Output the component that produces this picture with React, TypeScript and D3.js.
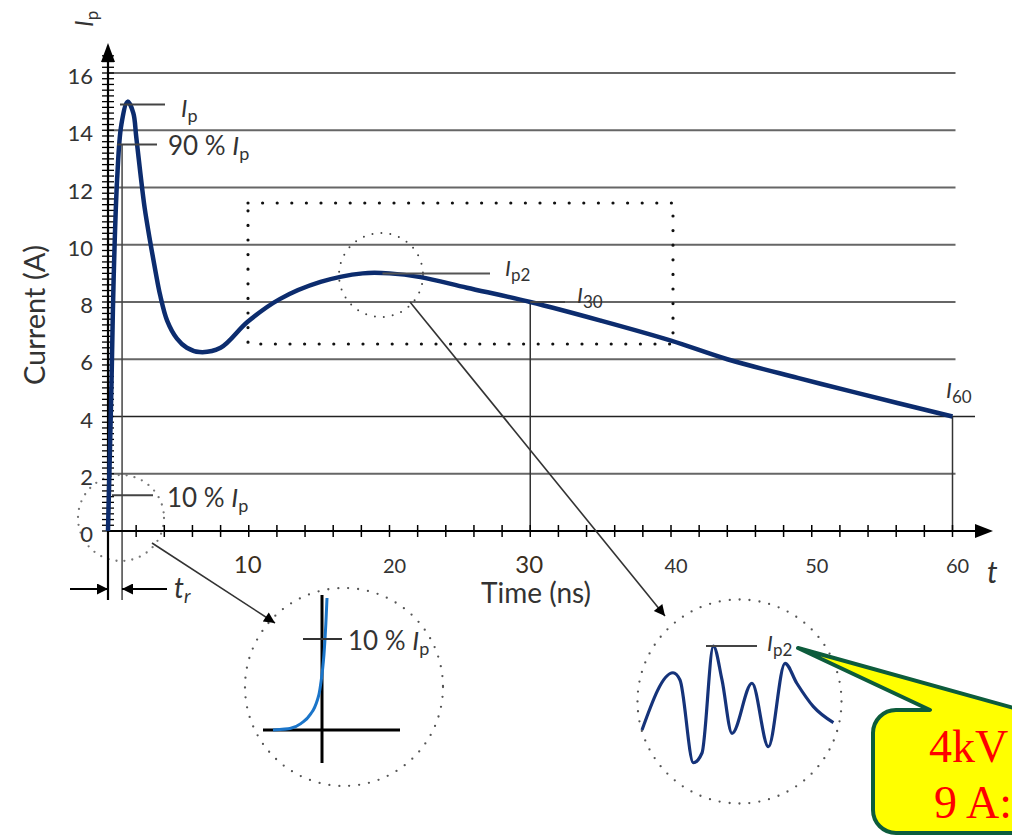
import React from 'react';
import * as d3 from 'd3';

const W = 1012;
const H = 836;

// main waveform
const timeNs = [0, 0.25, 0.4, 0.65, 0.95, 1.4, 1.8, 2.0, 2.3, 2.6, 3.0, 3.4, 3.7, 4.2, 4.9, 5.6, 6.5, 8.0, 9.9, 12.2, 15.1, 18.1, 20.0, 22.2, 25.5, 30, 35, 40, 44, 49, 53, 60];
const currentA = [0, 5.2, 8.8, 12.3, 14.2, 15, 14.6, 13.8, 12.5, 11.3, 10.1, 9.0, 8.25, 7.35, 6.72, 6.4, 6.25, 6.4, 7.3, 8.1, 8.7, 9.0, 9.0, 8.87, 8.5, 8.0, 7.35, 6.65, 6.0, 5.35, 4.85, 4.0];

const yTickLabels = [0, 2, 4, 6, 8, 10, 12, 14, 16];
const xTickLabels = [10, 20, 30, 40, 50, 60];
const bigXLabels = [10, 30];

// annotation levels
const ipLevel = 14.9;
const ip90 = 13.5;
const ip10 = 1.25;
const ip2Level = 9.0;
const trTime = 1.0;

// inset 1: rise detail (arbitrary units)
const riseU = [-4.9, -3.2, -1.9, -1.0, -0.4, -0.1, 0.15, 0.35, 0.5];
const riseV = [0, 0.15, 0.8, 1.8, 3.2, 4.8, 7.0, 10.0, 13.2];
const rise10 = 9.1;

// inset 2: ringing around Ip2 (arbitrary units)
const ringU = [0.1, 1.65, 2.0, 2.67, 3.1, 3.67, 4.1, 4.6, 5.6, 6.42, 7.25, 7.84, 8.67, 9.67];
const ringV = [3.33, 7.15, 6.67, 1.15, 1.8, 8.93, 6.67, 3.11, 6.45, 2.22, 7.78, 6.45, 4.89, 3.82];
const ringPeak = 8.93;

const FONT = 'Lato, "Open Sans", sans-serif';
const SERIF = '"Liberation Serif", "Times New Roman", serif';

const x = d3.scaleLinear().domain([0, 60]).range([108, 952.5]);
const y = d3.scaleLinear().domain([0, 16]).range([531, 73]);

const rx = d3.scaleLinear().domain([-6, 8]).range([262, 402]);
const ry = d3.scaleLinear().domain([-3.3, 13.2]).range([763, 598]);

const ox = d3.scaleLinear().domain([0, 10]).range([640, 840]);
const oy = d3.scaleLinear().domain([0, 10]).range([780, 630]);

const Lbl = ({ x, y, pre = '', main, sub, size = 26, subSize = 18, subItalic = false, fill = '#333' }: any) => (
  <text x={x} y={y} fontFamily={FONT} fontSize={size} fill={fill}>
    {pre}
    <tspan fontStyle="italic">{main}</tspan>
    <tspan fontSize={subSize} dy={5} fontStyle={subItalic ? 'italic' : 'normal'}>{sub}</tspan>
  </text>
);

export default function App() {
  const wave = d3.line<number>().x((d, i) => x(timeNs[i])).y(d => y(d)).curve(d3.curveCatmullRom.alpha(0.5))(currentA) || '';
  const rise = d3.line<number>().x((d, i) => rx(riseU[i])).y(d => ry(d)).curve(d3.curveMonotoneY)(riseV) || '';
  const ring = d3.line<number>().x((d, i) => ox(ringU[i])).y(d => oy(d)).curve(d3.curveMonotoneX)(ringV) || '';

  const yMinor = d3.range(0, 16.7, 0.2);
  const xMinor = d3.range(2, 60.1, 2);

  return (
    <svg width={W} height={H} style={{ display: 'block', position: 'absolute', left: 0, top: 0 }}>
      <defs>
        <marker id="ah" viewBox="0 0 10 10" refX={10} refY={5} markerWidth={15} markerHeight={11} markerUnits="userSpaceOnUse" orient="auto">
          <path d="M0,0 L10,5 L0,10 z" fill="#000" />
        </marker>
      </defs>
      <rect width={W} height={H} fill="#fff" />

      {/* grid */}
      {yTickLabels.filter(v => v > 0).map(v => (
        <line key={'g' + v} x1={x(0)} x2={v === 4 ? 975 : x(60) + 3} y1={y(v)} y2={y(v)}
          stroke={v === 4 ? '#222' : '#666'} strokeWidth={v === 4 ? 1.5 : 2} />
      ))}

      {/* dotted zoom rectangle */}
      <rect x={248} y={203} width={425} height={141} fill="none" stroke="#111" strokeWidth={3.2}
        strokeDasharray="0 14.6" strokeLinecap="round" />
      {/* dotted circles */}
      <circle cx={381} cy={275} r={42} fill="none" stroke="#444" strokeWidth={2} strokeDasharray="0 9" strokeLinecap="round" />
      <circle cx={121} cy={518} r={43} fill="none" stroke="#777" strokeWidth={2.3} strokeDasharray="0 8" strokeLinecap="round" />
      <circle cx={344} cy={687} r={99} fill="none" stroke="#555" strokeWidth={2.3} strokeDasharray="0 10" strokeLinecap="round" />
      <circle cx={739.5} cy={701.5} r={102} fill="none" stroke="#555" strokeWidth={2.3} strokeDasharray="0 10" strokeLinecap="round" />

      {/* drop lines */}
      <line x1={x(30)} x2={x(30)} y1={y(8)} y2={y(0)} stroke="#333" strokeWidth={1.5} />
      <line x1={x(60)} x2={x(60)} y1={y(4)} y2={y(0)} stroke="#333" strokeWidth={1.5} />
      <line x1={x(trTime)} x2={x(trTime)} y1={y(ip90)} y2={600} stroke="#444" strokeWidth={1.5} />

      {/* axes */}
      <line x1={x(0)} x2={x(0)} y1={600} y2={55} stroke="#000" strokeWidth={2.2} />
      <path d="M108,43 L101,62 L115,62 z" fill="#000" />
      <line x1={x(0)} x2={980} y1={y(0)} y2={y(0)} stroke="#000" strokeWidth={2.2} />
      <path d="M993,531 L975,524 L975,538 z" fill="#000" />
      {yMinor.map((v, i) => (
        <line key={'ym' + i} x1={102} x2={114} y1={y(v)} y2={y(v)} stroke="#000" strokeWidth={1.3} />
      ))}
      {xMinor.map((v, i) => (
        <line key={'xm' + i} x1={x(v)} x2={x(v)} y1={y(0) - 6} y2={y(0) + 6} stroke="#000" strokeWidth={1.5} />
      ))}

      {/* tick labels */}
      {yTickLabels.map(v => (
        <text key={'yl' + v} x={93} y={y(v) + 11} textAnchor="end" fontFamily={FONT} fontSize={22} fill="#333">{v}</text>
      ))}
      {xTickLabels.map(v => {
        const big = bigXLabels.includes(v);
        return (
          <text key={'xl' + v} x={x(v) + (big ? -1 : 5)} y={big ? 573 : 573} textAnchor="middle" fontFamily={FONT}
            fontSize={big ? 24 : 20} fill={big ? '#3a2e1c' : '#333'}>{v}</text>
        );
      })}

      {/* axis titles */}
      <text transform="translate(45,315) rotate(-90)" textAnchor="middle" fontFamily={FONT} fontSize={29} fill="#333">Current (A)</text>
      <text x={536} y={603} textAnchor="middle" fontFamily={FONT} fontSize={28} fill="#333">Time (ns)</text>
      <text x={987} y={583} fontFamily={FONT} fontSize={30} fontStyle="italic" fill="#333">t</text>
      <text transform="translate(93,27) rotate(-90)" fontFamily={FONT} fontSize={25} fill="#333">
        <tspan fontStyle="italic">I</tspan><tspan fontSize={17} dy={5}>p</tspan>
      </text>

      {/* waveform */}
      <path d={wave} fill="none" stroke="#0c2c6e" strokeWidth={4.5} strokeLinejoin="round" />

      {/* annotations */}
      <line x1={120} x2={165} y1={y(ipLevel)} y2={y(ipLevel)} stroke="#444" strokeWidth={2} />
      <Lbl x={181} y={117} main="I" sub="p" size={24} />
      <line x1={117} x2={157} y1={y(ip90)} y2={y(ip90)} stroke="#444" strokeWidth={2} />
      <Lbl x={168} y={155} pre="90 % " main="I" sub="p" />
      <line x1={112} x2={153} y1={y(ip10)} y2={y(ip10)} stroke="#444" strokeWidth={2} />
      <Lbl x={167} y={507} pre="10 % " main="I" sub="p" />

      <line x1={x(19.5)} x2={490} y1={y(ip2Level)} y2={y(ip2Level)} stroke="#555" strokeWidth={2} />
      <Lbl x={505} y={276} main="I" sub="p2" size={22} subSize={17} />
      <line x1={x(30)} x2={565} y1={y(8)} y2={y(8)} stroke="#444" strokeWidth={2} />
      <Lbl x={577} y={303} main="I" sub="30" size={22} subSize={17} />
      <Lbl x={946} y={398} main="I" sub="60" size={22} subSize={17} />

      {/* rise time arrows */}
      <line x1={70} x2={108} y1={589} y2={589} stroke="#000" strokeWidth={1.8} markerEnd="url(#ah)" />
      <line x1={167} x2={122} y1={589} y2={589} stroke="#000" strokeWidth={1.8} markerEnd="url(#ah)" />
      <Lbl x={174} y={598} main="t" sub="r" size={28} subSize={19} subItalic />

      {/* pointer arrows */}
      <line x1={152} y1={543} x2={275} y2={623} stroke="#333" strokeWidth={1.6} markerEnd="url(#ah)" />
      <line x1={410} y1={302} x2={665} y2={616} stroke="#333" strokeWidth={1.6} markerEnd="url(#ah)" />

      {/* inset 1 */}
      <line x1={rx(-5.9)} x2={rx(7.8)} y1={ry(0)} y2={ry(0)} stroke="#000" strokeWidth={3} />
      <line x1={rx(0)} x2={rx(0)} y1={ry(-3.3)} y2={ry(13.5)} stroke="#000" strokeWidth={3} />
      <path d={rise} fill="none" stroke="#1b75c9" strokeWidth={3} />
      <line x1={rx(-1.9)} x2={rx(2)} y1={ry(rise10)} y2={ry(rise10)} stroke="#333" strokeWidth={2} />
      <Lbl x={348} y={650} pre="10 % " main="I" sub="p" />

      {/* inset 2 */}
      <path d={ring} fill="none" stroke="#15337a" strokeWidth={3.2} />
      <line x1={706} x2={757} y1={oy(ringPeak)} y2={oy(ringPeak)} stroke="#444" strokeWidth={2} />
      <Lbl x={767} y={651} main="I" sub="p2" size={22} subSize={17} />

      {/* callout */}
      <path d="M798,648 L930,710 L896,710 A23,23 0 0 0 873,733 L873,810 A23,23 0 0 0 896,833 L1040,833 L1040,710 L1021,710 Z"
        fill="#ffff00" stroke="#0d5c3c" strokeWidth={4} strokeLinejoin="round" />
      <text x={929} y={762} fontFamily={SERIF} fontSize={46} fill="#ff0000">4kV</text>
      <text x={934} y={818} fontFamily={SERIF} fontSize={46} fill="#ff0000">9 A:</text>
    </svg>
  );
}
